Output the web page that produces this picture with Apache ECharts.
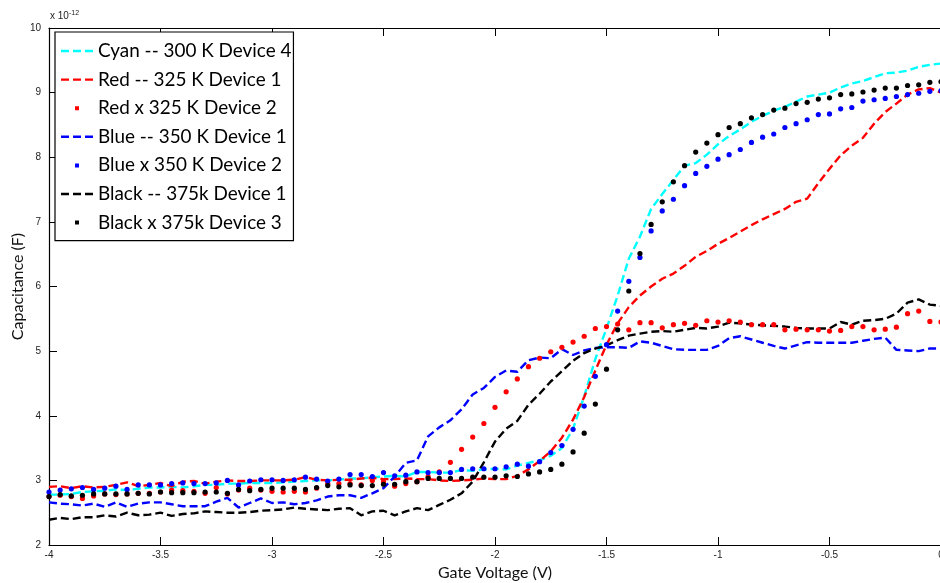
<!DOCTYPE html>
<html>
<head>
<meta charset="utf-8">
<script src="https://cdn.jsdelivr.net/npm/echarts@6/dist/echarts.min.js"></script>
<style>html,body{margin:0;padding:0;background:#fff;}#c{width:940px;height:583px;}</style>
</head>
<body>
<div id="c"></div>
<script>
// Gate voltage (V), sampled every 0.05 V
const volts = [-4,-3.95,-3.9,-3.85,-3.8,-3.75,-3.7,-3.65,-3.6,-3.55,-3.5,-3.45,-3.4,-3.35,-3.3,-3.25,-3.2,-3.15,-3.1,-3.05,
  -3,-2.95,-2.9,-2.85,-2.8,-2.75,-2.7,-2.65,-2.6,-2.55,-2.5,-2.45,-2.4,-2.35,-2.3,-2.25,-2.2,-2.15,-2.1,-2.05,
  -2,-1.95,-1.9,-1.85,-1.8,-1.75,-1.7,-1.65,-1.6,-1.55,-1.5,-1.45,-1.4,-1.35,-1.3,-1.25,-1.2,-1.15,-1.1,-1.05,
  -1,-0.95,-0.9,-0.85,-0.8,-0.75,-0.7,-0.65,-0.6,-0.55,-0.5,-0.45,-0.4,-0.35,-0.3,-0.25,-0.2,-0.15,-0.1,-0.05,0];

// Capacitance in units of 1e-12 F
const cyan300dev4 = [2.78,2.78,2.79,2.82,2.83,2.84,2.86,2.85,2.87,2.89,2.89,2.90,2.89,2.91,2.93,2.93,2.95,2.95,2.96,2.96,
  2.96,2.97,2.98,2.99,3.00,3.00,3.01,3.03,3.03,3.05,3.06,3.07,3.06,3.13,3.13,3.12,3.12,3.16,3.15,3.17,
  3.18,3.17,3.23,3.27,3.31,3.38,3.50,3.80,4.30,4.88,5.35,5.86,6.43,6.77,7.20,7.43,7.65,7.87,7.91,8.04,
  8.20,8.33,8.43,8.55,8.64,8.72,8.78,8.86,8.94,8.97,9.00,9.08,9.14,9.18,9.24,9.30,9.31,9.34,9.40,9.43,9.45];

const red325dev1 = [2.90,2.91,2.88,2.91,2.89,2.90,2.93,2.97,2.91,2.93,2.96,2.91,2.98,2.99,2.95,2.98,3.00,2.99,2.99,3.00,
  3.00,3.00,3.01,3.05,3.01,3.00,3.01,3.01,3.03,3.04,3.02,3.02,3.03,3.02,3.02,3.00,2.99,3.00,3.01,3.03,
  3.02,3.02,3.07,3.17,3.30,3.45,3.66,3.94,4.29,4.70,5.10,5.43,5.68,5.86,6.00,6.12,6.20,6.32,6.46,6.55,
  6.66,6.75,6.85,6.95,7.04,7.12,7.20,7.31,7.36,7.60,7.82,8.03,8.18,8.30,8.52,8.70,8.83,8.97,9.05,9.07,9.00];

const red325dev2 = [2.75,2.77,2.75,2.72,2.76,2.79,2.78,2.79,2.80,2.80,2.82,2.85,2.84,2.83,2.80,2.89,2.79,2.85,2.88,2.85,
  2.83,2.82,2.83,2.82,2.88,2.95,2.95,2.95,2.93,3.00,2.98,2.91,2.95,2.98,3.06,3.13,3.28,3.48,3.67,3.88,
  4.13,4.37,4.57,4.76,4.89,4.99,5.06,5.14,5.23,5.35,5.38,5.42,5.33,5.44,5.44,5.36,5.41,5.43,5.40,5.47,
  5.45,5.47,5.45,5.41,5.41,5.41,5.33,5.34,5.33,5.33,5.31,5.32,5.38,5.38,5.33,5.34,5.37,5.58,5.62,5.46,5.45];

const blue350dev1 = [2.66,2.64,2.63,2.61,2.64,2.59,2.66,2.59,2.64,2.66,2.66,2.63,2.60,2.60,2.60,2.67,2.73,2.58,2.65,2.72,
  2.65,2.66,2.63,2.65,2.69,2.75,2.77,2.77,2.73,2.80,2.88,3.06,3.27,3.31,3.68,3.82,3.93,4.10,4.33,4.43,
  4.60,4.70,4.68,4.86,4.90,4.89,5.03,4.94,5.01,5.05,5.06,5.06,5.05,5.15,5.13,5.08,5.03,5.02,5.02,5.02,
  5.08,5.20,5.23,5.18,5.13,5.08,5.04,5.09,5.14,5.13,5.13,5.13,5.13,5.16,5.19,5.21,5.02,5.01,5.00,5.04,5.04];

const blue350dev2 = [2.82,2.85,2.87,2.89,2.86,2.88,2.91,2.86,2.93,2.93,2.93,2.95,2.96,2.95,2.95,2.96,3.00,2.93,2.99,3.01,
  3.01,3.00,3.01,3.05,3.02,2.99,3.02,3.09,3.09,3.06,3.12,3.07,3.08,3.13,3.12,3.12,3.12,3.17,3.18,3.18,
  3.18,3.21,3.25,3.22,3.29,3.43,3.54,3.79,4.15,4.61,5.10,5.62,6.08,6.45,6.86,7.17,7.35,7.56,7.75,7.86,
  7.97,8.04,8.12,8.23,8.31,8.36,8.46,8.52,8.58,8.66,8.67,8.75,8.77,8.87,8.89,8.91,8.94,8.97,8.99,9.02,9.03];

const black375dev1 = [2.39,2.42,2.40,2.43,2.43,2.46,2.44,2.50,2.46,2.47,2.50,2.45,2.48,2.49,2.52,2.51,2.50,2.50,2.51,2.53,
  2.54,2.55,2.58,2.56,2.55,2.54,2.56,2.57,2.46,2.52,2.53,2.46,2.52,2.57,2.54,2.62,2.70,2.80,2.98,3.28,
  3.60,3.80,3.92,4.17,4.34,4.53,4.69,4.85,4.97,5.04,5.09,5.17,5.24,5.27,5.30,5.31,5.30,5.33,5.36,5.35,
  5.38,5.44,5.43,5.41,5.40,5.39,5.38,5.36,5.35,5.35,5.35,5.45,5.41,5.47,5.48,5.50,5.58,5.75,5.80,5.72,5.70];

const black375dev3 = [2.75,2.78,2.76,2.77,2.79,2.79,2.79,2.79,2.80,2.79,2.82,2.81,2.81,2.81,2.82,2.82,2.80,2.86,2.84,2.86,
  2.88,2.88,2.88,2.86,2.89,2.92,2.90,2.93,2.92,2.92,2.94,2.94,2.98,2.98,3.03,3.03,3.03,3.03,3.05,3.05,
  3.05,3.07,3.06,3.10,3.13,3.17,3.25,3.44,3.73,4.18,4.72,5.33,5.93,6.51,6.96,7.31,7.62,7.87,8.08,8.22,
  8.35,8.46,8.52,8.61,8.66,8.73,8.76,8.83,8.85,8.90,8.92,8.97,8.98,9.01,9.04,9.07,9.07,9.11,9.12,9.16,9.17];

const xTicks = [-4,-3.5,-3,-2.5,-2,-1.5,-1,-0.5,0];
const yTicks = [2,3,4,5,6,7,8,9,10];

const seriesNames = ['Cyan -- 300 K Device 4','Red -- 325 K Device 1','Red x 325 K Device 2',
  'Blue -- 350 K Device 1','Blue x 350 K Device 2','Black -- 375k Device 1','Black x 375k Device 3'];

// legend icons (32x14 box; tiny corner specks fix the bounding box)
const corners = ' M0,0h0.01v0.01h-0.01z M31.99,13.99h0.01v0.01h-0.01z';
const dashIcon = 'path://M0,5.8h8v2.4h-8z M12,5.8h8v2.4h-8z M24,5.8h8v2.4h-8z' + corners;
const dotIcon = 'path://M14,5h4v4h-4z' + corners;

function pairs(ys){ return volts.map((v,i)=>[v, ys[i]]); }

function lineS(name, ys, color){
  return { name, type:'line', data:pairs(ys), symbol:'none', showSymbol:false,
    lineStyle:{color, width:2.4, type:[8,4]}, itemStyle:{color}, animation:false, z:2 };
}
function dotS(name, ys, color){
  return { name, type:'scatter', data:pairs(ys), symbol:'circle', symbolSize:5.2,
    itemStyle:{color, opacity:1}, animation:false, z:3 };
}

const chart = echarts.init(document.getElementById('c'), null, {renderer:'canvas'});
chart.setOption({
  backgroundColor:'#ffffff',
  animation:false,
  grid:{left:49, width:892, top:28, height:517, containLabel:false, outerBoundsMode:'none'},
  xAxis:[{
    type:'value', min:-4, max:0, interval:0.5, position:'bottom',
    name:'Gate Voltage (V)', nameLocation:'middle', nameGap:19,
    nameTextStyle:{fontFamily:'Lato', fontSize:16, color:'#111'},
    axisLine:{show:true, onZero:false, lineStyle:{color:'#000', width:1.2}},
    axisTick:{show:true, inside:true, length:8, lineStyle:{color:'#000'}},
    axisLabel:{fontFamily:'Liberation Sans', fontSize:10, color:'#222', margin:5,
      formatter:v=>xTicks.includes(v)?String(v):''},
    splitLine:{show:false}
  },{
    type:'value', min:-4, max:0, interval:0.5, position:'top',
    axisLine:{show:true, onZero:false, lineStyle:{color:'#000', width:1.2}},
    axisTick:{show:true, inside:true, length:8, lineStyle:{color:'#000'}},
    axisLabel:{show:false}, splitLine:{show:false}
  }],
  yAxis:[{
    type:'value', min:2, max:10, interval:1,
    name:'Capacitance (F)', nameLocation:'middle', nameGap:23, nameRotate:90, nameMoveOverlap:false,
    nameTextStyle:{fontFamily:'Lato', fontSize:16, color:'#111'},
    axisLine:{show:true, onZero:false, lineStyle:{color:'#000', width:1.2}},
    axisTick:{show:true, inside:true, length:8, lineStyle:{color:'#000'}},
    axisLabel:{fontFamily:'Liberation Sans', fontSize:10, color:'#222', margin:8,
      formatter:v=>yTicks.includes(v)?String(v):''},
    splitLine:{show:false}
  }],
  legend:{
    show:true, orient:'vertical', left:55, top:32,
    padding:[9,2,8,6], itemGap:8.6, itemWidth:32, itemHeight:14,
    backgroundColor:'#fff', borderColor:'#000', borderWidth:1.2,
    textStyle:{fontFamily:'Lato', fontSize:18.9, color:'#000', lineHeight:20},
    data:seriesNames.map((n,i)=>({name:n, icon:(i===2||i===4||i===6)?dotIcon:dashIcon}))
  },
  graphic:[{
    type:'text', left:50, top:10,
    style:{text:'{a|x 10}{b|-12}', rich:{a:{fontFamily:'Liberation Sans', fontSize:10, fill:'#222'},
      b:{fontFamily:'Liberation Sans', fontSize:7, fill:'#222', verticalAlign:'top', padding:[0,0,6,0]}}}
  }],
  series:[
    lineS(seriesNames[0], cyan300dev4, '#00ffff'),
    lineS(seriesNames[1], red325dev1, '#ff0000'),
    dotS(seriesNames[2], red325dev2, '#ff0000'),
    lineS(seriesNames[3], blue350dev1, '#0000ff'),
    dotS(seriesNames[4], blue350dev2, '#0000ff'),
    lineS(seriesNames[5], black375dev1, '#000000'),
    dotS(seriesNames[6], black375dev3, '#000000')
  ]
});
</script>
</body>
</html>
